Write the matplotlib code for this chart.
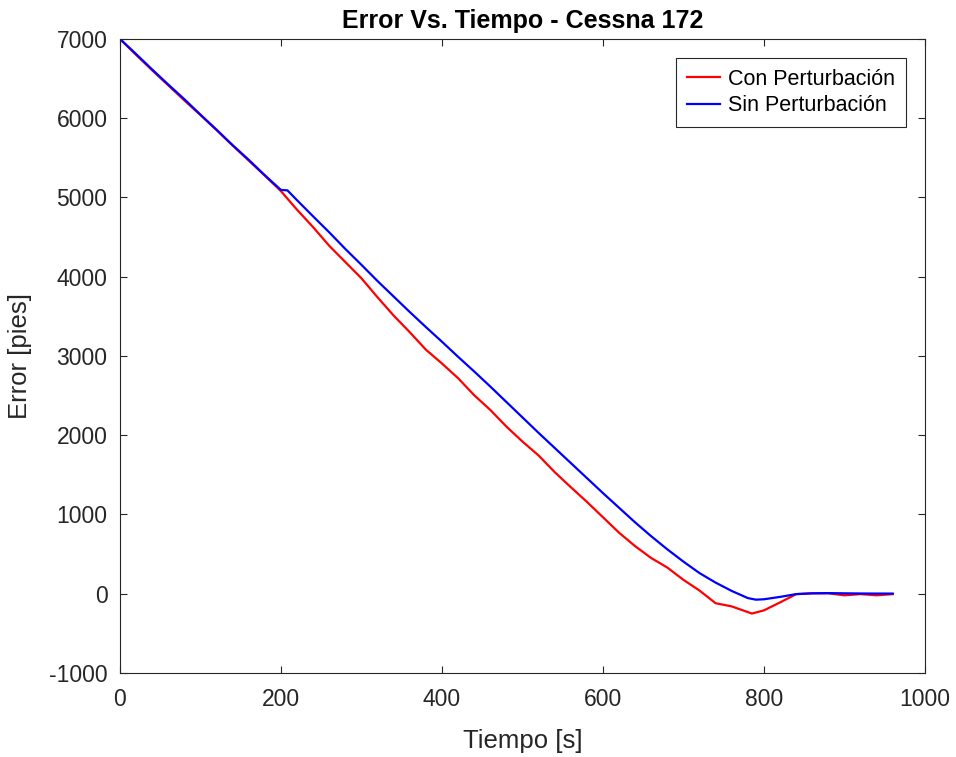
import matplotlib.pyplot as plt

# tiempo [s] y error [pies]
t_con = [0, 20, 40, 60, 80, 100, 120, 140, 160, 180, 200, 220, 240, 260, 280, 300,
         320, 340, 360, 380, 400, 420, 440, 460, 480, 500, 520, 540, 560, 580, 600,
         620, 640, 660, 680, 700, 720, 740, 750, 760, 785, 800, 820, 840, 860, 880,
         900, 920, 940, 960]
e_con = [7000, 6800, 6605, 6415, 6225, 6040, 5850, 5655, 5465, 5275, 5080, 4845,
         4625, 4390, 4185, 3980, 3740, 3510, 3300, 3080, 2905, 2720, 2505, 2320,
         2110, 1920, 1745, 1535, 1345, 1160, 965, 770, 600, 450, 330, 175, 40, -120,
         -140, -160, -250, -210, -110, -5, 5, 5, -20, -5, -20, -5]

t_sin = [0, 20, 40, 60, 80, 100, 120, 140, 160, 180, 200, 208, 220, 240, 260, 280,
         300, 320, 340, 360, 380, 400, 420, 440, 460, 480, 500, 520, 540, 560, 580,
         600, 620, 640, 660, 680, 700, 720, 740, 760, 780, 790, 800, 820, 840, 860,
         880, 900, 920, 940, 960]
e_sin = [7000, 6810, 6615, 6425, 6240, 6045, 5855, 5660, 5475, 5280, 5095, 5090,
         4965, 4761, 4560, 4350, 4150, 3945, 3750, 3555, 3365, 3180, 2990, 2805,
         2615, 2420, 2225, 2030, 1840, 1650, 1460, 1270, 1085, 900, 725, 560, 405,
         260, 140, 35, -55, -75, -70, -40, -5, 5, 8, 5, 3, 2, 2]

plt.rcParams['font.family'] = ['Liberation Sans', 'DejaVu Sans']
plt.rcParams['axes.unicode_minus'] = False

fig = plt.figure(figsize=(9.56, 7.57), dpi=100)
ax = fig.add_axes([0.1255, 0.111, 0.842, 0.8375])

ax.plot(t_con, e_con, color='#ff0000', linewidth=1.6, label='Con Perturbación')
ax.plot(t_sin, e_sin, color='#0000ff', linewidth=1.6, label='Sin Perturbación')

ax.set_xlim(0, 1000)
ax.set_ylim(-1000, 7000)
ax.set_xticks([0, 200, 400, 600, 800, 1000])
ax.set_yticks(range(-1000, 7001, 1000))

gris = '#262626'
for s in ax.spines.values():
    s.set_color(gris)
    s.set_linewidth(0.8)
ax.tick_params(direction='in', top=True, right=True, length=5, width=0.8,
               colors=gris, labelsize=16.5, labelcolor=gris)
ax.tick_params(axis='x', pad=11)
ax.tick_params(axis='y', pad=9)

ax.set_title('Error Vs. Tiempo - Cessna 172', fontsize=18, fontweight='bold',
             pad=8, color='#000000')
ax.set_xlabel('Tiempo [s]', fontsize=18.5, color=gris, labelpad=13)
ax.set_ylabel('Error [pies]', fontsize=18.5, color=gris, labelpad=12)

leg = ax.legend(loc='upper right', fontsize=15.5, fancybox=False, framealpha=1,
                edgecolor=gris, handlelength=1.55, handletextpad=0.35,
                borderpad=0.5, labelspacing=0.25, borderaxespad=0,
                bbox_to_anchor=(0.976, 0.970))
leg.get_frame().set_linewidth(0.8)

fig.savefig('out.png', dpi=100)
